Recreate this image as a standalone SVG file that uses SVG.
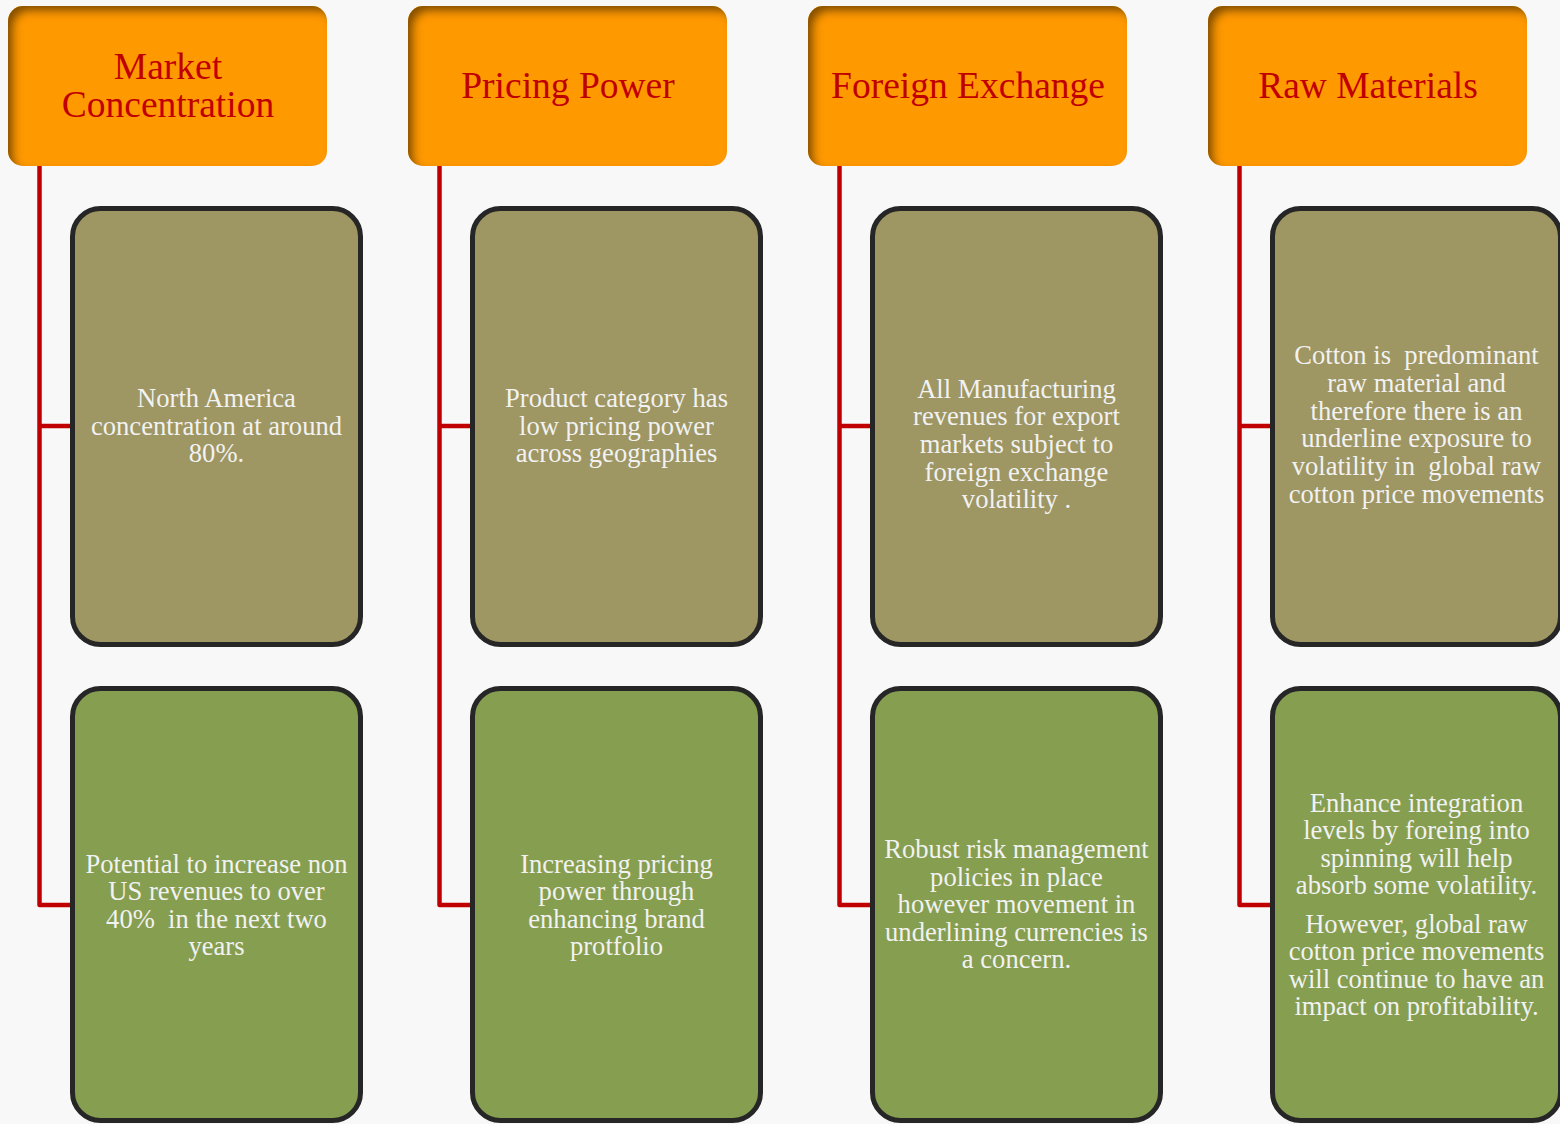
<svg xmlns="http://www.w3.org/2000/svg" width="1560" height="1124" viewBox="0 0 1560 1124">
<style>
  .hdr { fill: #ff9900; }
  .ht { font-family: "Liberation Serif", "Times New Roman", serif; font-size: 37.5px; fill: #c00000; text-anchor: middle; }
  .bt { font-family: "Liberation Serif", "Times New Roman", serif; font-size: 26.6px; fill: #f2f2f2; text-anchor: middle; white-space: pre; }
  .tan { fill: #9e9663; stroke: #262626; stroke-width: 5; }
  .grn { fill: #869e50; stroke: #262626; stroke-width: 5; }
  .conn { fill: none; stroke: #c00000; stroke-width: 4.5; stroke-linejoin: round; }
</style>
<defs>
  <filter id="inset" x="-5%" y="-5%" width="110%" height="110%">
    <feOffset in="SourceAlpha" dx="6" dy="6" result="off"/>
    <feGaussianBlur in="off" stdDeviation="4" result="blur"/>
    <feComposite in="SourceAlpha" in2="blur" operator="out" result="inv"/>
    <feFlood flood-color="#5a3800" flood-opacity="0.85"/>
    <feComposite in2="inv" operator="in" result="shadow"/>
    <feMerge><feMergeNode in="SourceGraphic"/><feMergeNode in="shadow"/></feMerge>
  </filter>
</defs>
<rect width="1560" height="1124" fill="#f8f8f8"/>

<g id="connectors">
  <path class="conn" d="M39.5 166 V905 H72 M39.5 426 H72"/>
  <path class="conn" d="M439.5 166 V905 H472 M439.5 426 H472"/>
  <path class="conn" d="M839.5 166 V905 H872 M839.5 426 H872"/>
  <path class="conn" d="M1239.5 166 V905 H1272 M1239.5 426 H1272"/>
</g>

<g id="h1">
  <rect class="hdr" x="8" y="6" width="319" height="160" rx="15" filter="url(#inset)"/>
  <text class="ht" x="168" y="79">Market</text>
  <text class="ht" x="168" y="116.7">Concentration</text>
</g>
<g id="h2">
  <rect class="hdr" x="408" y="6" width="319" height="160" rx="15" filter="url(#inset)"/>
  <text class="ht" x="568" y="98.3">Pricing Power</text>
</g>
<g id="h3">
  <rect class="hdr" x="808" y="6" width="319" height="160" rx="15" filter="url(#inset)"/>
  <text class="ht" x="968" y="98.3">Foreign Exchange</text>
</g>
<g id="h4">
  <rect class="hdr" x="1208" y="6" width="319" height="160" rx="15" filter="url(#inset)"/>
  <text class="ht" x="1368" y="98.3">Raw Materials</text>
</g>

<g id="b1a">
  <rect class="tan" x="72.5" y="208.5" width="288" height="436" rx="28"/>
  <text class="bt" x="216.5" y="407">North America</text>
  <text class="bt" x="216.5" y="434.5">concentration at around</text>
  <text class="bt" x="216.5" y="462">80%.</text>
</g>
<g id="b1b">
  <rect class="grn" x="72.5" y="688.5" width="288" height="432" rx="28"/>
  <text class="bt" x="216.5" y="872.5">Potential to increase non</text>
  <text class="bt" x="216.5" y="900">US revenues to over</text>
  <text class="bt" x="216.5" y="927.5">40%  in the next two</text>
  <text class="bt" x="216.5" y="955">years</text>
</g>

<g id="b2a">
  <rect class="tan" x="472.5" y="208.5" width="288" height="436" rx="28"/>
  <text class="bt" x="616.5" y="407">Product category has</text>
  <text class="bt" x="616.5" y="434.5">low pricing power</text>
  <text class="bt" x="616.5" y="462">across geographies</text>
</g>
<g id="b2b">
  <rect class="grn" x="472.5" y="688.5" width="288" height="432" rx="28"/>
  <text class="bt" x="616.5" y="872.5">Increasing pricing</text>
  <text class="bt" x="616.5" y="900">power through</text>
  <text class="bt" x="616.5" y="927.5">enhancing brand</text>
  <text class="bt" x="616.5" y="955">protfolio</text>
</g>

<g id="b3a">
  <rect class="tan" x="872.5" y="208.5" width="288" height="436" rx="28"/>
  <text class="bt" x="1016.5" y="397.5">All Manufacturing</text>
  <text class="bt" x="1016.5" y="425.2">revenues for export</text>
  <text class="bt" x="1016.5" y="453">markets subject to</text>
  <text class="bt" x="1016.5" y="480.7">foreign exchange</text>
  <text class="bt" x="1016.5" y="508.4">volatility .</text>
</g>
<g id="b3b">
  <rect class="grn" x="872.5" y="688.5" width="288" height="432" rx="28"/>
  <text class="bt" x="1016.5" y="858.3">Robust risk management</text>
  <text class="bt" x="1016.5" y="885.8">policies in place</text>
  <text class="bt" x="1016.5" y="913.3">however movement in</text>
  <text class="bt" x="1016.5" y="940.8">underlining currencies is</text>
  <text class="bt" x="1016.5" y="968.3">a concern.</text>
</g>

<g id="b4a">
  <rect class="tan" x="1272.5" y="208.5" width="288" height="436" rx="28"/>
  <text class="bt" x="1416.5" y="364.3">Cotton is  predominant</text>
  <text class="bt" x="1416.5" y="392">raw material and</text>
  <text class="bt" x="1416.5" y="419.7">therefore there is an</text>
  <text class="bt" x="1416.5" y="447.3">underline exposure to</text>
  <text class="bt" x="1416.5" y="475">volatility in  global raw</text>
  <text class="bt" x="1416.5" y="502.7">cotton price movements</text>
</g>
<g id="b4b">
  <rect class="grn" x="1272.5" y="688.5" width="288" height="432" rx="28"/>
  <text class="bt" x="1416.5" y="811.7">Enhance integration</text>
  <text class="bt" x="1416.5" y="839.2">levels by foreing into</text>
  <text class="bt" x="1416.5" y="866.8">spinning will help</text>
  <text class="bt" x="1416.5" y="894.3">absorb some volatility.</text>
  <text class="bt" x="1416.5" y="932.7">However, global raw</text>
  <text class="bt" x="1416.5" y="960.2">cotton price movements</text>
  <text class="bt" x="1416.5" y="987.6">will continue to have an</text>
  <text class="bt" x="1416.5" y="1015">impact on profitability.</text>
</g>
</svg>
